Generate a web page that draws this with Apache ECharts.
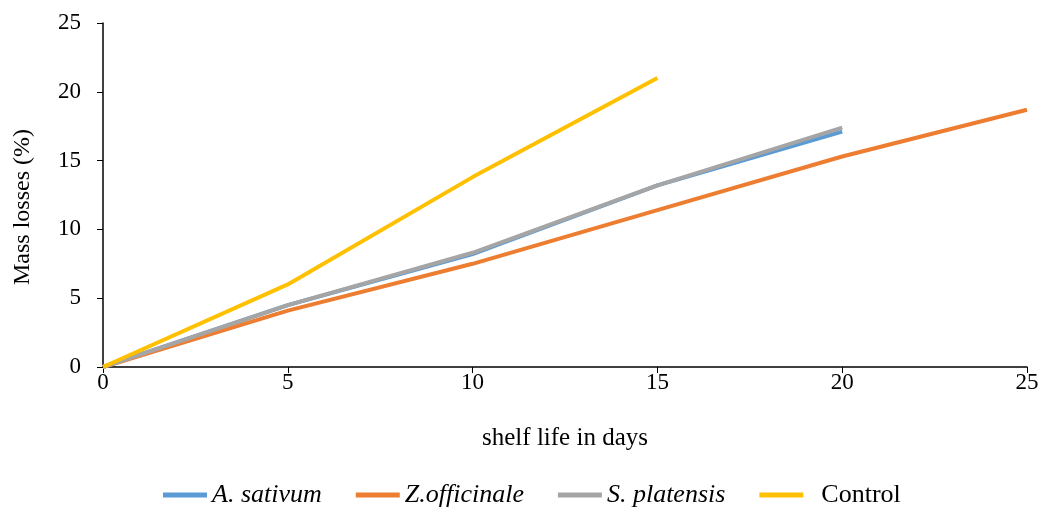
<!DOCTYPE html>
<html><head><meta charset="utf-8">
<script src="https://cdn.jsdelivr.net/npm/echarts@6/dist/echarts.min.js"></script>
<style>html,body{margin:0;padding:0;background:#fff}#c{width:1042px;height:515px}</style>
</head><body><div id="c"></div>
<script>
const days = [0, 5, 10, 15, 20, 25];
const aSativum = [0, 4.5, 8.2, 13.2, 17.1];
const zOfficinale = [0, 4.1, 7.5, 11.4, 15.3, 18.7];
const sPlatensis = [0, 4.5, 8.3, 13.2, 17.4];
const control = [0, 6.0, 13.8, 21.0];
const seriesNames = ['A. sativum', 'Z.officinale', 'S. platensis', 'Control'];
const colors = ['#5B9BD5', '#ED7D31', '#A5A5A5', '#FFC000'];
const values = [aSativum, zOfficinale, sPlatensis, control];

const font = 'Liberation Serif, Times New Roman, serif';
const chart = echarts.init(document.getElementById('c'));
chart.setOption({
  animation: false,
  grid: {left: 103, right: 15, top: 23, bottom: 148},
  xAxis: {
    type: 'value', min: 0, max: 25, interval: 5,
    name: 'shelf life in days', nameLocation: 'middle', nameGap: 59,
    nameTextStyle: {fontFamily: font, fontSize: 25, color: '#000'},
    axisLine: {lineStyle: {color: '#000', width: 1.5}},
    axisTick: {show: true, length: 6, lineStyle: {color: '#000'}},
    axisLabel: {fontFamily: font, fontSize: 23, color: '#000', margin: 4},
    splitLine: {show: false}
  },
  yAxis: {
    type: 'value', min: 0, max: 25, interval: 5,
    name: 'Mass losses (%)', nameLocation: 'middle', nameGap: 68,
    nameTextStyle: {fontFamily: font, fontSize: 24, color: '#000', padding: [0, 24, 0, 0]},
    axisLine: {show: true, lineStyle: {color: '#000', width: 1.5}},
    axisTick: {show: true, length: 6, lineStyle: {color: '#000'}},
    axisLabel: {fontFamily: font, fontSize: 23, color: '#000', margin: 22},
    splitLine: {show: false}
  },
  legend: {
    bottom: 2, left: 158, itemWidth: 44, itemHeight: 5, itemGap: 34,
    formatter: name => name === 'Control' ? '  ' + name : name,
    data: seriesNames.map((n, i) => ({
      name: n, icon: 'rect', itemStyle: {color: colors[i]},
      textStyle: {fontFamily: font, fontSize: 26, color: '#000', fontStyle: i < 3 ? 'italic' : 'normal'}
    }))
  },
  series: values.map((v, i) => ({
    name: seriesNames[i], type: 'line', showSymbol: false, symbol: 'none',
    data: v.map((y, j) => [days[j], y]),
    lineStyle: {color: colors[i], width: 4},
    itemStyle: {color: colors[i]},
    z: i === 3 ? 5 : 2 + i
  }))
});
</script></body></html>
